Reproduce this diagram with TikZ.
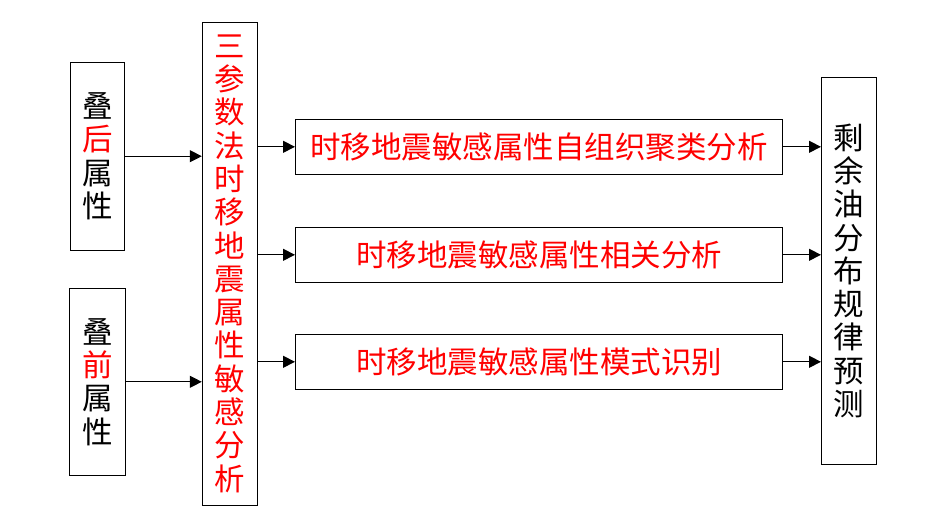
\documentclass[tikz,border=0pt]{standalone}
\usepackage{fontspec}
\newfontfamily\cjk{Noto Sans CJK SC}
\usetikzlibrary{arrows.meta}

\begin{document}
\begin{tikzpicture}[x=1pt,y=-1pt,
    box/.style={draw,line width=1pt,inner sep=0pt,align=center,
      font=\cjk\fontsize{30.5}{33.3}\selectfont},
    pfeil/.style={line width=1pt,-{Triangle[length=12pt,width=12pt]}}]

    \useasboundingbox (0,0) rectangle (945,531);

    \node[box,minimum width=54pt,minimum height=188pt] at (97.3,156.2) (hou)
      {叠\\\textcolor{red}{后}\\属\\性};
    \node[box,minimum width=56pt,minimum height=187pt] at (97.3,381.8) (qian)
      {叠\\\textcolor{red}{前}\\属\\性};
    \node[box,text=red,minimum width=55pt,minimum height=483pt] at (229.8,263.6) (sancan)
      {三\\参\\数\\法\\时\\移\\地\\震\\属\\性\\敏\\感\\分\\析};

    \node[box,text=red,minimum width=487pt,minimum height=55pt] at (539,146.8) (juL)
      {时移地震敏感属性自组织聚类分析};
    \node[box,text=red,minimum width=487pt,minimum height=55pt] at (539,254.8) (xgF)
      {时移地震敏感属性相关分析};
    \node[box,text=red,minimum width=487pt,minimum height=55pt] at (539,361.8) (msS)
      {时移地震敏感属性模式识别};

    \node[box,minimum width=55pt,minimum height=387pt] at (849,270.8) (yuce)
      {剩\\余\\油\\分\\布\\规\\律\\预\\测};

    \draw[pfeil] (hou.east) -- (hou.east -| sancan.west);
    \draw[pfeil] (qian.east) -- (qian.east -| sancan.west);

    \draw[pfeil] (juL.west -| sancan.east) -- (juL.west);
    \draw[pfeil] (xgF.west -| sancan.east) -- (xgF.west);
    \draw[pfeil] (msS.west -| sancan.east) -- (msS.west);

    \draw[pfeil] (juL.east) -- (juL.east -| yuce.west);
    \draw[pfeil] (xgF.east) -- (xgF.east -| yuce.west);
    \draw[pfeil] (msS.east) -- (msS.east -| yuce.west);

\end{tikzpicture}
\end{document}
